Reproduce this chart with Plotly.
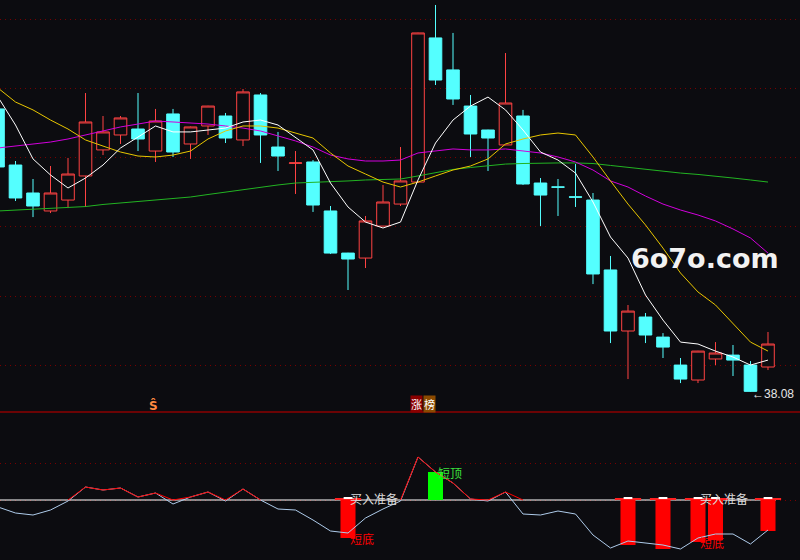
import plotly.graph_objects as go

# ---------------- data ----------------
idx = list(range(45))

opens = [58.52, 54.47, 52.45, 51.15, 51.94, 53.68, 55.56, 56.64, 57.07, 55.48,
         58.16, 55.99, 57.29, 58.01, 56.28, 59.53, 55.77, 54.60, 54.69, 51.15,
         48.11, 47.75, 50.06, 51.65, 53.24, 63.65, 61.34, 58.73, 57.00, 55.92,
         58.01, 53.17, 52.89, 52.17, 51.94, 46.89, 42.48, 43.49, 42.04, 40.02,
         38.94, 40.46, 40.74, 40.02, 39.88]
highs = [58.81, 54.76, 53.46, 54.40, 54.98, 59.67, 58.01, 58.01, 59.67, 58.52,
         58.52, 57.25, 58.75, 58.23, 59.96, 59.67, 56.86, 55.48, 54.83, 51.51,
         48.13, 50.79, 53.03, 55.77, 64.03, 66.03, 64.01, 59.53, 57.02, 62.56,
         58.45, 53.53, 53.46, 54.54, 52.45, 47.90, 44.36, 43.78, 42.33, 40.53,
         41.05, 41.68, 41.47, 40.31, 42.41]
lows = [54.11, 51.87, 50.71, 51.00, 51.36, 51.44, 55.19, 55.99, 55.48, 54.69,
        55.05, 54.91, 56.64, 56.06, 55.84, 54.62, 54.04, 52.38, 51.08, 48.04,
        45.44, 47.03, 50.04, 51.51, 53.17, 60.25, 58.81, 55.05, 54.04, 55.90,
        53.03, 50.06, 50.79, 51.44, 45.87, 41.61, 39.01, 41.61, 40.53, 38.72,
        38.72, 40.02, 39.23, 38.08, 39.66]
closes = [54.33, 52.09, 51.51, 52.45, 53.82, 57.58, 56.86, 57.87, 56.35, 57.65,
          55.41, 57.22, 58.73, 56.42, 59.75, 56.64, 55.12, 54.62, 51.58, 48.11,
          47.68, 50.43, 51.80, 53.32, 64.01, 60.61, 59.24, 56.71, 56.42, 58.95,
          53.10, 52.30, 52.87, 52.15, 46.60, 42.48, 43.92, 42.19, 41.32, 39.01,
          41.03, 40.89, 40.38, 38.12, 41.54]

ma5 = [59.38, 57.36, 54.91, 53.75, 52.81, 53.53, 54.47, 55.70, 56.49, 57.29,
       56.86, 56.86, 57.00, 57.14, 57.58, 57.72, 57.36, 56.49, 55.56, 53.17,
       51.44, 50.35, 49.92, 50.35, 53.39, 56.06, 57.72, 58.73, 59.38, 58.45,
       57.00, 55.41, 54.83, 53.89, 51.80, 49.27, 47.75, 45.08, 43.27, 41.68,
       41.54, 41.03, 40.60, 40.02, 40.38]
ma10 = [60.03, 59.02, 58.45, 57.72, 57.07, 56.28, 55.84, 55.41, 55.12, 55.05,
        55.19, 55.48, 56.35, 56.93, 57.29, 57.29, 57.14, 56.78, 56.42, 55.34,
        54.40, 53.82, 53.24, 52.88, 53.24, 53.68, 54.11, 54.40, 54.91, 55.99,
        56.35, 56.64, 56.78, 56.64, 55.05, 53.32, 51.65, 50.14, 48.47, 46.67,
        45.30, 44.36, 42.98, 41.68, 41.03]
ma20 = [55.70, 55.84, 55.99, 56.13, 56.35, 56.64, 56.93, 57.22, 57.43, 57.65,
        57.58, 57.51, 57.43, 57.29, 57.14, 56.93, 56.57, 56.21, 55.77, 55.19,
        54.91, 54.76, 54.76, 54.83, 55.34, 55.48, 55.63, 55.56, 55.56, 55.63,
        55.48, 55.34, 55.05, 54.69, 54.11, 53.32, 52.88, 52.23, 51.65, 51.22,
        50.86, 50.43, 49.85, 49.20, 48.11]
ma60 = [51.15, 51.22, 51.26, 51.33, 51.40, 51.47, 51.62, 51.73, 51.83, 51.94,
        52.02, 52.16, 52.34, 52.52, 52.70, 52.88, 53.03, 53.17, 53.21, 53.24,
        53.32, 53.39, 53.42, 53.46, 53.68, 53.93, 54.15, 54.29, 54.44, 54.54,
        54.58, 54.62, 54.62, 54.62, 54.58, 54.44, 54.29, 54.18, 54.04, 53.89,
        53.79, 53.68, 53.53, 53.39, 53.24]

osc = [-3.5, -6.5, -7.5, -5, -0.5, 6.5, 5, 6, 1.5, 3.5,
       -2, 1.5, 4, -0.5, 5.5, 0, -4.5, -5, -10, -15.5,
       -16.5, -9, -4.5, -0.5, 21.5, 14, 8.5, 0.5, -0.5, 4,
       -7, -7.5, -5.5, -7, -17.5, -24, -20.5, -21.5, -22.5, -24.5,
       -19, -17, -17, -22, -15]

bar_idx = [20, 25, 36, 38, 40, 41, 44]
bar_val = [-19, 14, -22.5, -24.5, -21, -20, -15.5]

buy_idx = [20, 40]          # 买入准备 / 短底 labels
top_idx = [25]              # 短顶 label
limit_up_idx = 24           # 涨榜
marker_idx = 9              # Ŝ marker
low_idx = 43                # lowest price label

price_grid = [40, 45, 50, 55, 60, 65]
osc_grid = [0, 18.5]

# ---------------- style ----------------
BG = "#0C0C10"
UP = "#FF4343"
DN = "#54FFFF"
GRID = "#780000"
n = len(idx)

fig = go.Figure()

fig.add_trace(go.Candlestick(
    x=idx, open=opens, high=highs, low=lows, close=closes,
    increasing=dict(line=dict(color=UP, width=1), fillcolor=BG),
    decreasing=dict(line=dict(color=DN, width=1), fillcolor=DN),
    whiskerwidth=0, hoverinfo="skip", showlegend=False))

for vals, col in [(ma60, "#22B422"), (ma20, "#D200DC"), (ma10, "#E8C600"), (ma5, "#FFFFFF")]:
    fig.add_trace(go.Scatter(x=idx, y=vals, mode="lines",
                             line=dict(color=col, width=1), hoverinfo="skip", showlegend=False))

# ---------------- indicator panel ----------------
fig.add_trace(go.Scatter(x=idx, y=osc, yaxis="y2", mode="lines",
                         line=dict(color="#AECBEA", width=1), hoverinfo="skip", showlegend=False))
red_line = []
for i, v in enumerate(osc):
    near_pos = v > 0 or (i > 0 and osc[i - 1] > 0) or (i < n - 1 and osc[i + 1] > 0)
    red_line.append(max(v, 0) if near_pos else None)
fig.add_trace(go.Scatter(x=idx, y=red_line, yaxis="y2", mode="lines", connectgaps=False,
                         line=dict(color="#FF0000", width=1), hoverinfo="skip", showlegend=False))

fig.add_trace(go.Bar(x=bar_idx, y=bar_val, yaxis="y2", width=0.86,
                     marker=dict(color=["#00FF00" if v > 0 else "#FF0000" for v in bar_val], line_width=0),
                     hoverinfo="skip", showlegend=False))
neg_idx = [k for k, v in zip(bar_idx, bar_val) if v < 0]
fig.add_trace(go.Bar(x=neg_idx, y=[0.6] * len(neg_idx), base=[0.2] * len(neg_idx), yaxis="y2",
                     width=1.5, marker=dict(color="#FF2020", line_width=0),
                     hoverinfo="skip", showlegend=False))
fig.add_trace(go.Bar(x=neg_idx, y=[0.6] * len(neg_idx), base=[0.7] * len(neg_idx), yaxis="y2",
                     width=0.5, marker=dict(color="#FFFFFF", line_width=0),
                     hoverinfo="skip", showlegend=False))

# ---------------- shapes ----------------
fig.add_shape(type="line", xref="paper", yref="paper", x0=0, x1=1, y0=1 - 412 / 560, y1=1 - 412 / 560,
              line=dict(color="#8B0000", width=1.3))
fig.add_shape(type="line", xref="x", yref="y2", x0=-1, x1=n - 1 + 0.45, y0=0, y1=0,
              line=dict(color="#FFFFFF", width=1.2), layer="between")

# ---------------- annotations ----------------
ann = []
CJK = "Noto Sans CJK SC"
for k in buy_idx:
    ann.append(dict(x=k, y=1.0, xref="x", yref="y2", text="买入准备", showarrow=False,
                    xanchor="left", yanchor="middle", font=dict(family=CJK, size=12, color="#DCDCDC")))
    bv = bar_val[bar_idx.index(k)]
    ann.append(dict(x=k, y=bv, xref="x", yref="y2", text="短底", showarrow=False,
                    xanchor="left", yanchor="middle", font=dict(family=CJK, size=12, color="#FF0000")))
for k in top_idx:
    bv = bar_val[bar_idx.index(k)]
    ann.append(dict(x=k, y=bv, xref="x", yref="y2", text="短顶", showarrow=False,
                    xanchor="left", yanchor="middle", font=dict(family=CJK, size=12, color="#3CE03C")))

ann.append(dict(x=limit_up_idx, y=37.24, xref="x", yref="y", text="涨", showarrow=False,
                xanchor="right", yanchor="middle", xshift=5, bgcolor="#8B0000", borderpad=0,
                font=dict(family=CJK, size=11, color="#FFFFFF")))
ann.append(dict(x=limit_up_idx, y=37.24, xref="x", yref="y", text="榜", showarrow=False,
                xanchor="left", yanchor="middle", xshift=5, bgcolor="#8B4A00", borderpad=0,
                font=dict(family=CJK, size=11, color="#FFFFFF")))
ann.append(dict(x=marker_idx, y=37.13, xref="x", yref="y", text="Ŝ", showarrow=False,
                xanchor="center", yanchor="middle", xshift=-2,
                font=dict(family="DejaVu Sans", size=12, color="#FF8A40", weight="bold")))
ann.append(dict(x=low_idx, y=lows[low_idx], xref="x", yref="y", text="←" + f"{lows[low_idx]:.2f}",
                showarrow=False, xanchor="left", yanchor="middle", yshift=-2,
                font=dict(family="Liberation Sans", size=12, color="#E6E6E6")))
ann.append(dict(x=0.881, y=0.539, xref="paper", yref="paper", text="6o7o.com", showarrow=False,
                xanchor="center", yanchor="middle",
                font=dict(family="DejaVu Sans", size=27, color="#F2F2F2", weight="bold")))

fig.update_layout(
    width=800, height=560, margin=dict(l=0, r=0, t=0, b=0),
    paper_bgcolor=BG, plot_bgcolor=BG, showlegend=False,
    boxgap=0.1, boxgroupgap=0.2, barmode="overlay",
    annotations=ann,
    xaxis=dict(range=[0.1143, 45.829], showgrid=False, zeroline=False, showticklabels=False,
               showline=False, ticks="", rangeslider=dict(visible=False), fixedrange=True),
    yaxis=dict(domain=[1 - 412 / 560, 1], range=[36.63, 66.39], tickvals=price_grid,
               showgrid=True, gridcolor=GRID, gridwidth=1, griddash="1px,4px",
               zeroline=False, showticklabels=False, ticks="", fixedrange=True),
    yaxis2=dict(domain=[0, 1 - 412 / 560], range=[-30, 44], tickvals=osc_grid, anchor="x",
                showgrid=True, gridcolor=GRID, gridwidth=1, griddash="1px,4px",
                zeroline=False, showticklabels=False, ticks="", fixedrange=True),
)

fig.write_html("out.html", config={"displayModeBar": False},
               post_script="document.body.style.margin='0';document.body.style.background='#0C0C10';")
